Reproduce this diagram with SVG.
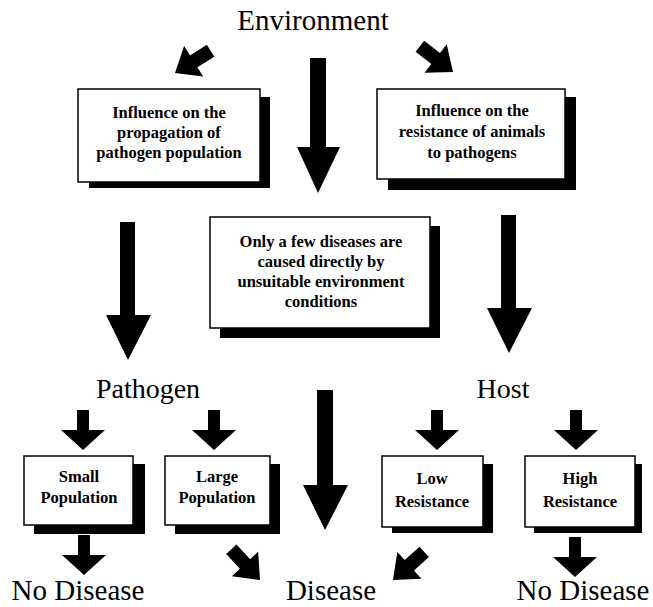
<svg xmlns="http://www.w3.org/2000/svg" width="653" height="607" viewBox="0 0 653 607">
<defs>
<style>
.big{font-family:"Liberation Serif","Times New Roman",serif;fill:#000;text-anchor:middle}
.bx{font-family:"Liberation Serif","Times New Roman",serif;font-weight:bold;font-size:16.5px;fill:#000;text-anchor:middle}
.box{fill:#fff;stroke:#000;stroke-width:1.5}
.sh{fill:#000}
.ar{fill:#000}
</style>
<path id="sa" d="M-6,-40 L6,-40 L6,-20 L22,-20 L0,0 L-22,-20 L-6,-20 Z"/>
<path id="da" d="M-7,-42 L7,-42 L7,-22 L18,-22 L0,0 L-18,-22 L-7,-22 Z"/>
</defs>
<rect width="653" height="607" fill="#fff"/>

<g id="environment"><text class="big" x="313" y="30" font-size="29">Environment</text></g>

<g id="connectors">
<use href="#da" class="ar" transform="translate(175,73) rotate(58)"/>
<use href="#da" class="ar" transform="translate(453,72) rotate(-52)"/>
<path class="ar" d="M310,58 L326,58 L326,147 L340,147 L318,193 L297,147 L310,147 Z"/>
<path class="ar" d="M120,222 L135,222 L135,315 L151,315 L128,360 L106,315 L120,315 Z"/>
<path class="ar" d="M501,215 L516,215 L516,308 L532,308 L509,353 L487,308 L501,308 Z"/>
<path class="ar" d="M317,390 L333,390 L333,485 L348,485 L325,530 L303,485 L317,485 Z"/>
<use href="#sa" class="ar" transform="translate(83,450)"/>
<use href="#sa" class="ar" transform="translate(214,450)"/>
<use href="#sa" class="ar" transform="translate(437,450)"/>
<use href="#sa" class="ar" transform="translate(576,450)"/>
<use href="#sa" class="ar" transform="translate(84,575)"/>
<use href="#sa" class="ar" transform="translate(575,577)"/>
<use href="#da" class="ar" transform="translate(260,580) rotate(-43)"/>
<use href="#da" class="ar" transform="translate(393,580) rotate(48)"/>
</g>

<g id="box-propagation">
<rect class="sh" x="89" y="97" width="181" height="91"/>
<rect class="box" x="78" y="89" width="182" height="93"/>
<text class="bx" x="169" y="118">Influence on the</text>
<text class="bx" x="169" y="138">propagation of</text>
<text class="bx" x="169" y="158">pathogen population</text>
</g>

<g id="box-resistance">
<rect class="sh" x="388" y="97" width="188" height="93"/>
<rect class="box" x="377" y="89" width="188" height="90"/>
<text class="bx" x="472" y="116">Influence on the</text>
<text class="bx" x="472" y="137">resistance of animals</text>
<text class="bx" x="472" y="158">to pathogens</text>
</g>

<g id="box-direct">
<rect class="sh" x="220" y="226" width="220" height="112"/>
<rect class="box" x="210" y="217" width="220" height="111"/>
<text class="bx" x="321" y="247">Only a few diseases are</text>
<text class="bx" x="321" y="267">caused directly by</text>
<text class="bx" x="321" y="287">unsuitable environment</text>
<text class="bx" x="321" y="307">conditions</text>
</g>

<g id="pathogen"><text class="big" x="148" y="398" font-size="28">Pathogen</text></g>
<g id="host"><text class="big" x="503" y="398" font-size="28">Host</text></g>

<g id="box-small">
<rect class="sh" x="34" y="464" width="111" height="70"/>
<rect class="box" x="24" y="456" width="109" height="69"/>
<text class="bx" x="79" y="482">Small</text>
<text class="bx" x="79" y="503">Population</text>
</g>

<g id="box-large">
<rect class="sh" x="175" y="464" width="105" height="70"/>
<rect class="box" x="165" y="456" width="105" height="69"/>
<text class="bx" x="217" y="482">Large</text>
<text class="bx" x="217" y="503">Population</text>
</g>

<g id="box-low">
<rect class="sh" x="392" y="464" width="101" height="69"/>
<rect class="box" x="382" y="456" width="101" height="71"/>
<text class="bx" x="432" y="484">Low</text>
<text class="bx" x="432" y="507">Resistance</text>
</g>

<g id="box-high">
<rect class="sh" x="534" y="464" width="108" height="69"/>
<rect class="box" x="525" y="456" width="110" height="71"/>
<text class="bx" x="580" y="484">High</text>
<text class="bx" x="580" y="507">Resistance</text>
</g>

<g id="no-disease-left"><text class="big" x="78" y="600" font-size="29">No Disease</text></g>
<g id="disease"><text class="big" x="331" y="600" font-size="29">Disease</text></g>
<g id="no-disease-right"><text class="big" x="583" y="600" font-size="29">No Disease</text></g>
</svg>
